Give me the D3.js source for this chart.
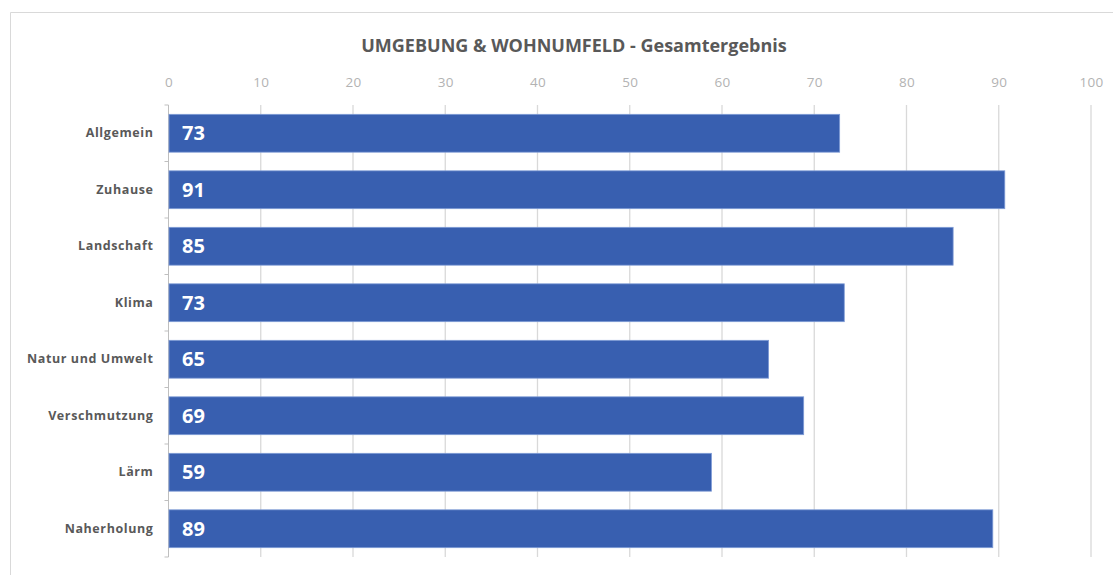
<!DOCTYPE html>
<html><head><meta charset="utf-8">
<script src="https://cdn.jsdelivr.net/npm/d3@7"></script>
<style>
html,body{margin:0;padding:0;background:#fff;}
svg{display:block;}
</style></head>
<body>
<svg id="chart" width="1113" height="575"></svg>
<script>
const categories = ["Allgemein","Zuhause","Landschaft","Klima","Natur und Umwelt","Verschmutzung","Lärm","Naherholung"];
const values = [72.7, 90.6, 85.0, 73.2, 65.0, 68.8, 58.8, 89.3];
const labels = ["73","91","85","73","65","69","59","89"];
const xTicks = [0,10,20,30,40,50,60,70,80,90,100];
const title = "UMGEBUNG & WOHNUMFELD - Gesamtergebnis";

(function(){
const svg = d3.select("#chart");
const font = "'Open Sans', 'Liberation Sans', sans-serif";

// outer frame
svg.append("path").attr("d","M10.5,575 L10.5,12.5 L1113,12.5")
  .attr("fill","none").attr("stroke","#d9d9d9").attr("stroke-width",1);

const pLeft = 168.5, pRight = 1091, pTop = 105, pBottom = 557;
const x = d3.scaleLinear().domain([0,100]).range([pLeft,pRight]);
const y = d3.scaleBand().domain(categories).range([pTop,pBottom]).paddingInner(0.33).paddingOuter(0.165);

// title
svg.append("text").attr("x",574).attr("y",52).attr("text-anchor","middle")
  .attr("font-family",font).attr("font-weight",700).attr("font-size",18)
  .attr("fill","#595959").text(title);

// gridlines
svg.append("g").selectAll("line").data(xTicks.slice(1)).join("line")
  .attr("x1",d=>x(d)).attr("x2",d=>x(d)).attr("y1",pTop).attr("y2",pBottom)
  .attr("stroke","#d9d9d9").attr("stroke-width",1.3);

// top axis labels
const xAxis = d3.axisTop(x).tickValues(xTicks).tickSize(0).tickPadding(0);
const gx = svg.append("g").attr("transform",`translate(0,${87})`).call(xAxis);
gx.select(".domain").remove();
gx.selectAll("text").attr("font-family",font).attr("font-size",13.5)
  .attr("fill","#b3b3b3").attr("letter-spacing","0.3px");

// y axis line with ticks at band boundaries
const step = y.step();
const bounds = d3.range(categories.length+1).map(i => pTop + i*step);
svg.append("line").attr("x1",pLeft).attr("x2",pLeft).attr("y1",pTop).attr("y2",pBottom)
  .attr("stroke","#bfbfbf").attr("stroke-width",1);
svg.append("g").selectAll("line").data(bounds).join("line")
  .attr("x1",pLeft-4).attr("x2",pLeft).attr("y1",d=>d).attr("y2",d=>d)
  .attr("stroke","#bfbfbf").attr("stroke-width",1);

// bars
svg.append("g").selectAll("rect").data(values).join("rect")
  .attr("x",x(0)+0.5).attr("y",(d,i)=>y(categories[i]))
  .attr("width",d=>x(d)-x(0)).attr("height",y.bandwidth())
  .attr("fill","#385FB0").attr("stroke","#7f9bd6").attr("stroke-width",0.8);

// value labels
svg.append("g").selectAll("text").data(labels).join("text")
  .attr("x",182).attr("y",(d,i)=>y(categories[i])+y.bandwidth()/2)
  .attr("dy","0.36em").attr("font-family",font).attr("font-weight",700)
  .attr("font-size",20).attr("fill","#ffffff").text(d=>d);

// category labels
const yAxis = d3.axisLeft(y).tickSize(0).tickPadding(15);
const gy = svg.append("g").attr("transform",`translate(${pLeft},0)`).call(yAxis);
gy.select(".domain").remove();
gy.selectAll("text").attr("font-family",font).attr("font-weight",700)
  .attr("font-size",12.5).attr("fill","#595959").attr("letter-spacing","0.6px");
})();
</script>
</body></html>
